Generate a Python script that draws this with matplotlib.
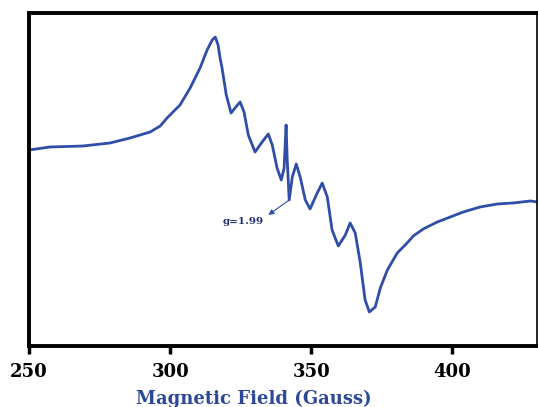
import matplotlib.pyplot as plt

# EPR spectrum (arbitrary intensity units)
field = [250.0, 257.4, 269.1, 278.7, 285.8, 292.9, 296.5, 298.9, 303.5, 307.1,
         310.6, 313.1, 314.9, 316.0, 317.0, 317.7, 318.4, 319.9, 321.6, 323.0,
         324.8, 326.2, 327.7, 330.1, 332.6, 334.8, 336.2, 337.9, 339.4, 340.4,
         341.1, 341.5, 342.2, 343.3, 344.7, 346.1, 347.9, 349.6, 351.8, 353.9,
         355.7, 357.4, 359.6, 362.1, 363.8, 365.6, 367.4, 369.1, 370.6, 372.7,
         374.5, 377.0, 380.5, 384.0, 386.2, 389.7, 394.7, 399.3, 403.9, 409.9,
         416.0, 421.6, 427.7, 430.1]
intensity = [196, 199, 200, 203, 208, 214, 220, 228, 241, 258,
             278, 296, 306, 309, 301, 288, 278, 251, 233, 238,
             244, 234, 211, 194, 204, 212, 201, 178, 166, 178,
             221, 186, 146, 169, 182, 169, 146, 137, 151, 163,
             149, 116, 100, 111, 123, 113, 83, 46, 34, 39,
             58, 76, 93, 103, 110, 117, 124, 129, 134, 139,
             142, 143, 145, 144]

xticks = [250, 300, 350, 400]

blue = "#2f4ea8"
serif = "DejaVu Serif"

fig = plt.figure(figsize=(5.38, 4.07), dpi=100)
ax = fig.add_axes([0.054, 0.150, 0.944, 0.818])
ax.plot(field, intensity, color=blue, lw=2.0, solid_joinstyle="round")

ax.set_xlim(250, 430)
ax.set_ylim(0, 333)
ax.set_yticks([])
ax.set_xticks(xticks)
ax.set_xticklabels([str(t) for t in xticks], fontfamily=serif,
                   fontweight="bold", fontsize=13)
ax.tick_params(axis="x", direction="out", length=6, width=2.5, pad=6)

for side in ["left", "top", "bottom"]:
    ax.spines[side].set_linewidth(2.8)
ax.spines["right"].set_linewidth(1.2)

# g=1.99 label with arrow pointing from the sharp line
ax.text(325.9, 124, "g=1.99", ha="center", va="center", fontfamily=serif,
        fontweight="bold", fontsize=7.5, color="#1f2f6e")
ax.annotate("", xy=(334.8, 131), xytext=(342.2, 146),
            arrowprops=dict(arrowstyle="-|>", color=blue, lw=0.8,
                            mutation_scale=8, shrinkA=0, shrinkB=0))

fig.text(254 / 538, 1 - 399 / 407, "Magnetic Field (Gauss)", ha="center",
         va="center", fontfamily=serif, fontweight="bold",
         fontsize=13, color="#2c4898")

fig.savefig("out.png", dpi=100)
